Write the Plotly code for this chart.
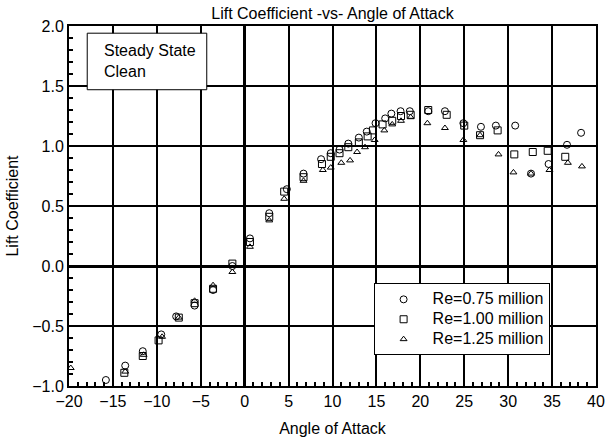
import plotly.graph_objects as go

# Lift coefficient measurements, one list pair per Reynolds number
aoa_re075 = [-15.8, -13.6, -11.6, -9.5, -7.8, -5.7, -3.6, -1.4, 0.6, 2.8, 4.8, 6.7,
             8.7, 9.8, 10.8, 11.8, 13.0, 13.9, 14.9, 16.0, 16.7, 17.75, 18.8, 20.9,
             22.8, 24.9, 26.9, 28.6, 30.8, 32.6, 34.6, 36.7, 38.3]
cl_re075 = [-0.95, -0.83, -0.71, -0.57, -0.42, -0.33, -0.20, 0.00, 0.23, 0.44, 0.64, 0.77,
            0.89, 0.94, 0.97, 1.02, 1.07, 1.12, 1.19, 1.23, 1.27, 1.29, 1.29, 1.29,
            1.29, 1.19, 1.16, 1.17, 1.17, 0.77, 0.85, 1.01, 1.11]

aoa_re100 = [-13.7, -11.6, -9.8, -7.5, -5.7, -3.6, -1.4, 0.6, 2.8, 4.5, 6.7, 8.8,
             9.8, 10.8, 11.8, 13.0, 14.0, 14.6, 15.7, 16.8, 17.8, 18.9, 20.9, 23.0,
             25.0, 26.8, 28.8, 30.7, 32.8, 34.5, 36.5]
cl_re100 = [-0.89, -0.75, -0.62, -0.43, -0.31, -0.19, 0.02, 0.20, 0.41, 0.62, 0.74, 0.85,
            0.91, 0.94, 0.99, 1.03, 1.08, 1.13, 1.18, 1.21, 1.25, 1.26, 1.30, 1.26,
            1.17, 1.09, 1.13, 0.93, 0.95, 0.96, 0.91]

aoa_re125 = [-19.8, -13.6, -11.5, -9.4, -7.5, -5.7, -3.6, -1.4, 0.6, 2.8, 4.5, 6.7,
             8.9, 9.8, 11.0, 12.0, 12.8, 13.7, 14.8, 15.9, 16.8, 17.8, 18.9, 20.8,
             22.8, 24.9, 26.8, 28.9, 30.6, 32.6, 34.7, 36.8, 38.4]
cl_re125 = [-0.85, -0.88, -0.74, -0.59, -0.43, -0.29, -0.16, -0.05, 0.16, 0.38, 0.56, 0.71,
            0.80, 0.82, 0.86, 0.88, 0.95, 0.99, 1.05, 1.13, 1.18, 1.21, 1.24, 1.19,
            1.15, 1.05, 1.09, 0.93, 0.78, 0.77, 0.80, 0.86, 0.83]

series_names = ["Re=0.75 million", "Re=1.00 million", "Re=1.25 million"]

FONT = "Liberation Sans, Arial, sans-serif"

fig = go.Figure()
for name, xs, ys, symbol, size in [
    (series_names[0], aoa_re075, cl_re075, "circle-open", 7),
    (series_names[1], aoa_re100, cl_re100, "square-open", 7),
    (series_names[2], aoa_re125, cl_re125, "triangle-up-open", 6),
]:
    fig.add_trace(go.Scatter(
        x=xs, y=ys, mode="markers",
        # legend rows stay compact (13px line height) while the label itself is 16px
        name=f"<span style='font-size:16px'>{name}</span>",
        marker=dict(symbol=symbol, size=size, color="black",
                    line=dict(color="black", width=1)),
    ))

axis_style = dict(
    automargin=False,
    ticklabeloverflow="allow",
    showgrid=True, gridcolor="black", gridwidth=1.5,
    showline=True, linecolor="black", linewidth=2, mirror=True,
    zeroline=True, zerolinecolor="black", zerolinewidth=3,
    ticks="", tickfont=dict(size=16, color="black", family=FONT),
)

fig.update_xaxes(
    range=[-20, 40], tick0=0, dtick=5,
    minor=dict(ticks="inside", dtick=1, ticklen=4, tickwidth=1.5,
               tickcolor="black", showgrid=False),
    title=dict(text="Angle of Attack", font=dict(size=16, color="black", family=FONT),
               standoff=19),
    **axis_style,
)
fig.update_yaxes(
    range=[-1, 2], tick0=0, dtick=0.5, tickformat=".1f",
    minor=dict(ticks="inside", dtick=0.1, ticklen=4, tickwidth=1.5,
               tickcolor="black", showgrid=False),
    title=dict(text="Lift Coefficient", font=dict(size=16, color="black", family=FONT),
               standoff=10),
    **axis_style,
)

# Caption box in the upper-left corner of the plot
fig.add_shape(type="rect", xref="paper", yref="paper",
              x0=0.0346, x1=0.2614, y0=0.823, y1=0.98,
              line=dict(color="black", width=1), fillcolor="white", layer="above")
fig.add_annotation(text="Steady State<br>Clean", xref="paper", yref="paper",
                   x=0.063, y=0.902, xanchor="left", yanchor="middle", align="left",
                   showarrow=False, font=dict(size=16, color="black", family=FONT))

fig.update_layout(
    width=605, height=437,
    margin=dict(l=69, r=9, t=26, b=51),
    paper_bgcolor="white", plot_bgcolor="white",
    font=dict(family=FONT, size=16, color="black"),
    title=dict(text="Lift Coefficient -vs- Angle of Attack",
               font=dict(size=16, color="black", family=FONT),
               xref="paper", x=0.5, xanchor="center",
               yref="container", y=1 - 13 / 437, yanchor="middle"),
    legend=dict(x=0.578, xanchor="left", y=0.185, yanchor="middle",
                bgcolor="white", bordercolor="black", borderwidth=1,
                font=dict(size=13, color="black", family=FONT),
                itemwidth=48),
    showlegend=True,
)

fig.write_html("out.html")
